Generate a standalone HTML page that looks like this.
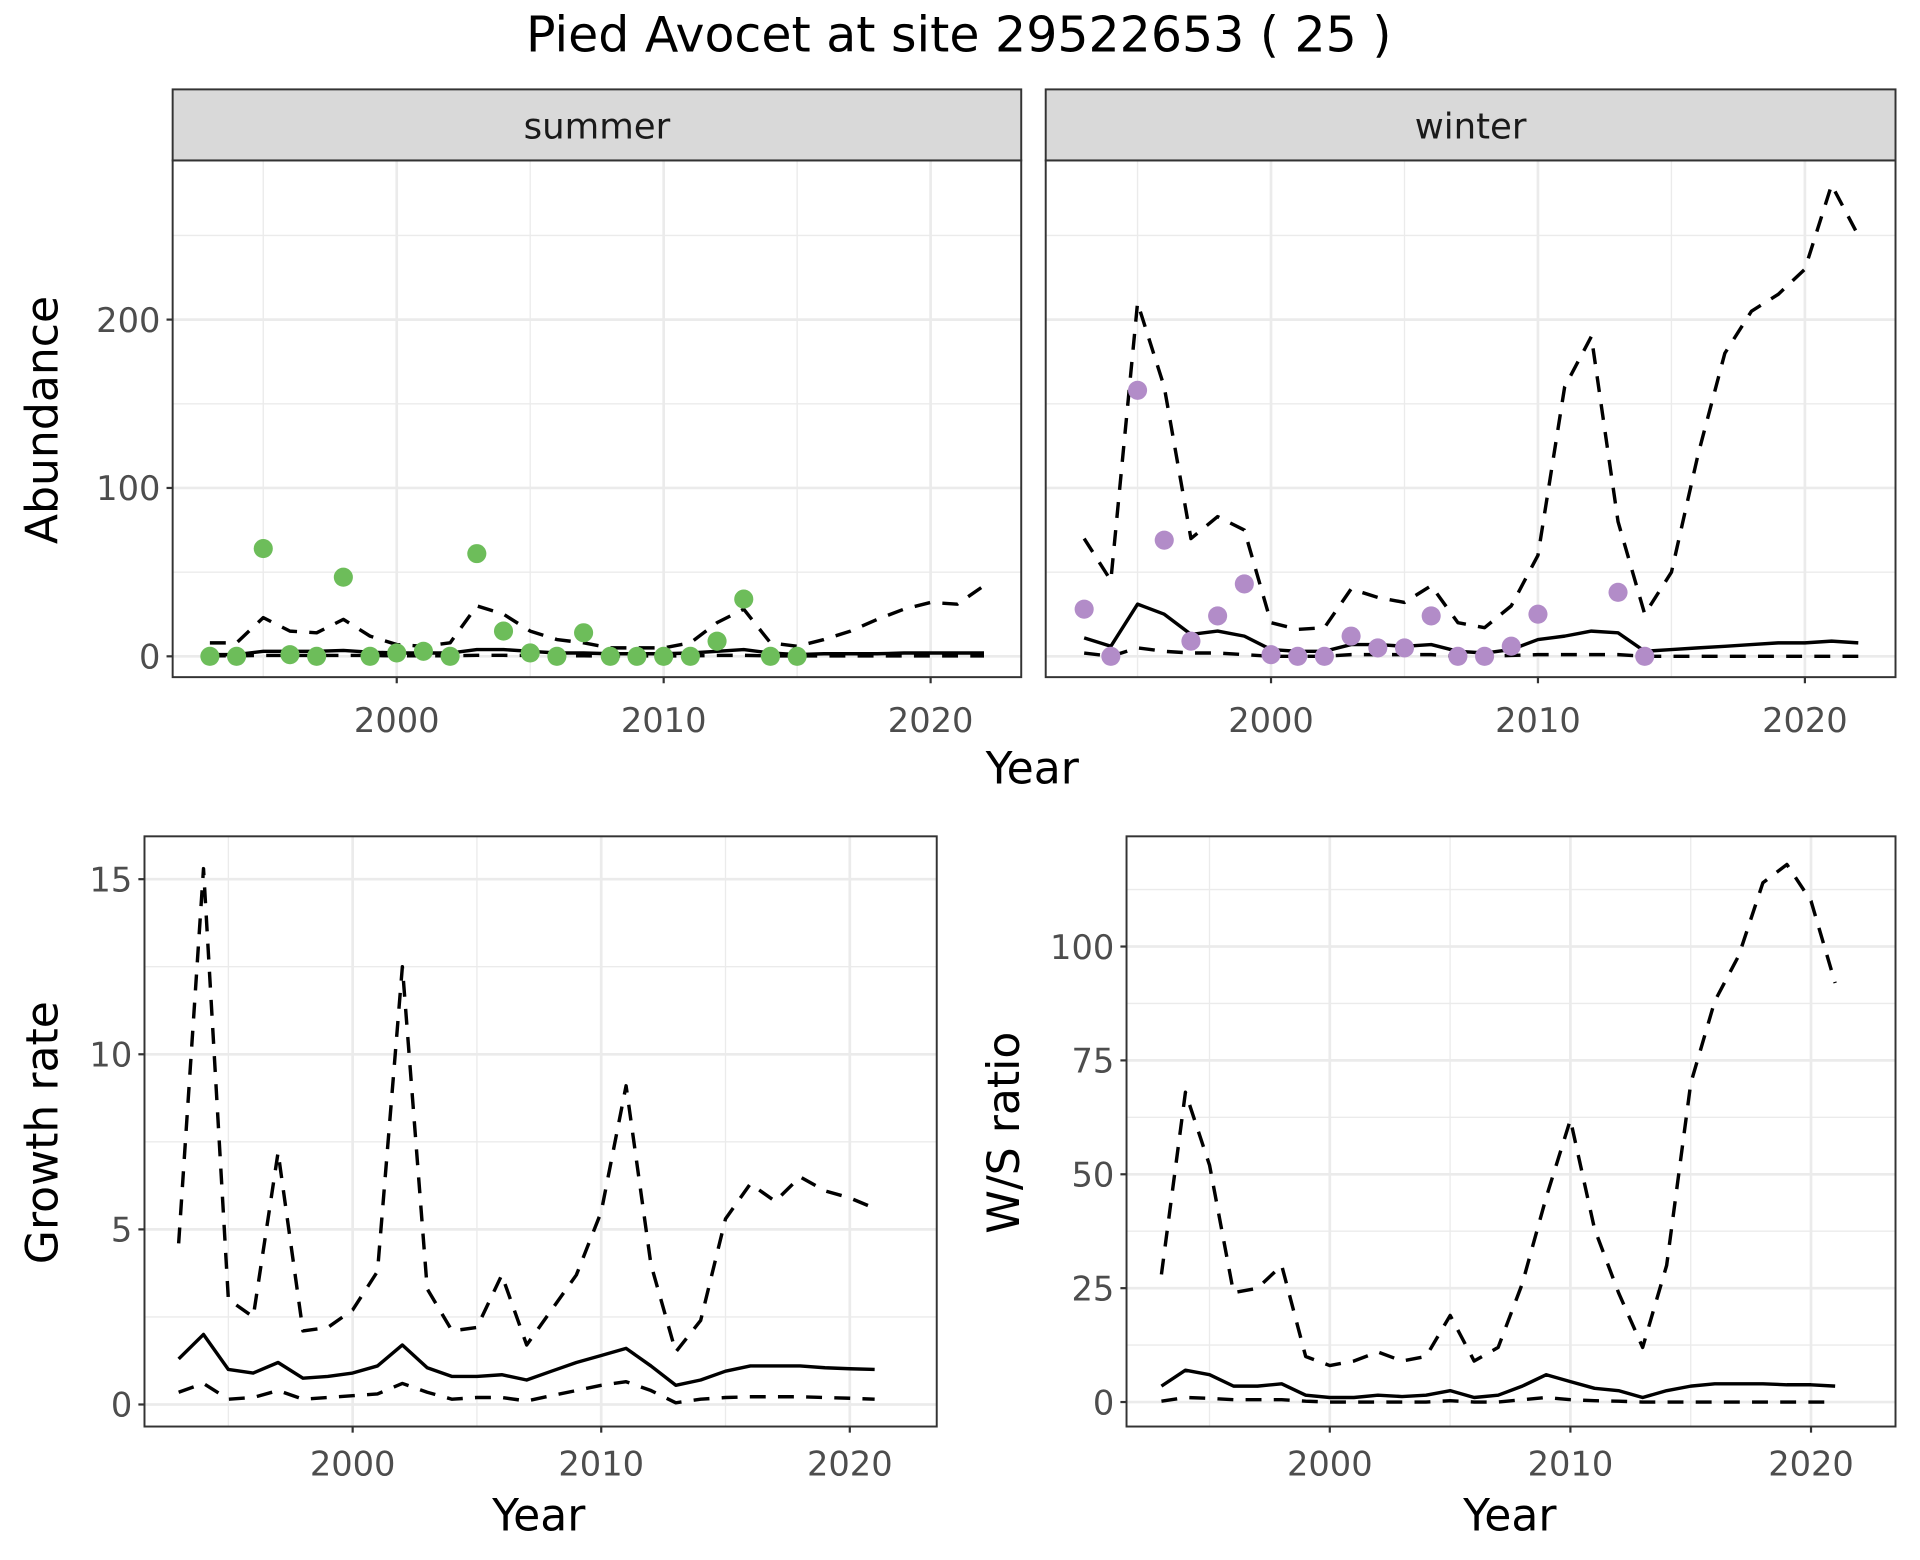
<!DOCTYPE html>
<html><head><meta charset="utf-8"><style>
html,body{margin:0;padding:0;background:#fff;}
svg{display:block;font-family:"DejaVu Sans","Liberation Sans",sans-serif;}
</style></head><body>
<svg id="chart" width="1920" height="1560" viewBox="0 0 1568 1274" preserveAspectRatio="none" xmlns="http://www.w3.org/2000/svg">
<text x="783" y="42" text-anchor="middle" font-size="40" fill="#000">Pied Avocet at site 29522653 ( 25 )</text>
</svg>
<script>
// ---- data ----
const yearsAbund = [1993,1994,1995,1996,1997,1998,1999,2000,2001,2002,2003,2004,2005,2006,2007,2008,2009,2010,2011,2012,2013,2014,2015,2016,2017,2018,2019,2020,2021,2022];
const summerObsYears = [1993,1994,1995,1996,1997,1998,1999,2000,2001,2002,2003,2004,2005,2006,2007,2008,2009,2010,2011,2012,2013,2014,2015];
const summerObs = [0,0,64,1,0,47,0,2,3,0,61,15,2,0,14,0,0,0,0,9,34,0,0];
const summerUpper = [8,8,23,15,14,22,12,7,6,8,30,25,15,10,8,5,5,5,8,20,28,8,6,10,15,22,28,32,31,42];
const summerMean = [1,1,3,3,3,3.5,2.5,2,2,2,4,4,3,2,2,1.5,1.5,1.5,2,3,4,2,1,1.5,1.5,1.5,2,2,2,2];
const summerLower = [0.3,0.3,0.5,0.5,0.5,0.5,0.5,0.3,0.3,0.3,0.6,0.6,0.5,0.3,0.3,0.2,0.2,0.2,0.3,0.5,0.6,0.3,0.2,0.2,0.2,0.2,0.2,0.2,0.2,0.2];
const winterObsYears = [1993,1994,1995,1996,1997,1998,1999,2000,2001,2002,2003,2004,2005,2006,2007,2008,2009,2010,2013,2014];
const winterObs = [28,0,158,69,9,24,43,1,0,0,12,5,5,24,0,0,6,25,38,0];
const winterUpper = [70,45,210,160,70,83,75,20,16,17,40,35,32,42,20,17,30,60,160,190,80,25,50,120,180,205,215,230,280,250];
const winterMean = [11,6,31,25,13,15,12,4,3,3,7,7,6,7,3,2,4,10,12,15,14,3,4,5,6,7,8,8,9,8];
const winterLower = [2,0,5,3,2,2,1,0,0,0,1,1,1,1,0,0,0.5,1,1,1,1,0,0,0,0,0,0,0,0,0];
const yearsRate = [1993,1994,1995,1996,1997,1998,1999,2000,2001,2002,2003,2004,2005,2006,2007,2008,2009,2010,2011,2012,2013,2014,2015,2016,2017,2018,2019,2020,2021];
const growthUpper = [4.6,15.3,3.0,2.5,7.2,2.1,2.2,2.7,3.8,12.5,3.3,2.1,2.2,3.7,1.7,2.7,3.7,5.5,9.1,4.0,1.5,2.4,5.3,6.3,5.8,6.5,6.1,5.9,5.6];
const growthMean = [1.3,2.0,1.0,0.9,1.2,0.75,0.8,0.9,1.1,1.7,1.05,0.8,0.8,0.85,0.7,0.95,1.2,1.4,1.6,1.1,0.55,0.7,0.95,1.1,1.1,1.1,1.05,1.02,1.0];
const growthLower = [0.35,0.6,0.15,0.2,0.4,0.15,0.2,0.25,0.3,0.6,0.35,0.15,0.2,0.2,0.1,0.25,0.4,0.55,0.65,0.4,0.05,0.15,0.2,0.22,0.22,0.22,0.2,0.18,0.15];
const wsUpper = [28,68,52,24,25,30,10,8,9,11,9,10,19,9,12,26,45,62,38,24,12,30,70,88,98,114,118,110,92];
const wsMean = [3.5,7,6,3.5,3.5,4,1.5,1,1,1.5,1.2,1.5,2.5,1,1.5,3.5,6,4.5,3,2.5,1,2.5,3.5,4,4,4,3.8,3.8,3.5];
const wsLower = [0.2,1,0.8,0.5,0.5,0.5,0.2,0,0,0,0,0,0.3,0,0,0.5,1,0.5,0.3,0.2,0,0,0,0,0,0,0,0,0];
const xTicks = [2000,2010,2020];
const xMinor = [1995,2005,2015];
const abundTicks = [0,100,200];
const abundMinor = [50,150,250];
const growthTicks = [0,5,10,15];
const growthMinor = [2.5,7.5,12.5];
const wsTicks = [0,25,50,75,100];
const wsMinor = [12.5,37.5,62.5,87.5,112.5];

const NS='http://www.w3.org/2000/svg';
const svg=document.getElementById('chart');
function mk(tag,attrs,parent){const e=document.createElementNS(NS,tag);for(const k in attrs)e.setAttribute(k,attrs[k]);(parent||svg).appendChild(e);return e;}

function panel(cfg){
  const g=mk('g',{});
  
  
  const xs=v=>cfg.x0+(v-2000)*cfg.xk;
  const ys=v=>cfg.y0-v*cfg.yk;
  mk('rect',{x:cfg.l,y:cfg.t,width:cfg.r-cfg.l,height:cfg.b-cfg.t,fill:'#fff'},g);
  cfg.yMinor.forEach(v=>{const y=ys(v);if(y>cfg.t&&y<cfg.b)mk('line',{x1:cfg.l,x2:cfg.r,y1:y,y2:y,stroke:'#ebebeb','stroke-width':1.1},g);});
  xMinor.forEach(v=>{const x=xs(v);if(x>cfg.l&&x<cfg.r)mk('line',{x1:x,x2:x,y1:cfg.t,y2:cfg.b,stroke:'#ebebeb','stroke-width':1.1},g);});
  cfg.yTicks.forEach(v=>{const y=ys(v);mk('line',{x1:cfg.l,x2:cfg.r,y1:y,y2:y,stroke:'#ebebeb','stroke-width':2.2},g);});
  xTicks.forEach(v=>{const x=xs(v);mk('line',{x1:x,x2:x,y1:cfg.t,y2:cfg.b,stroke:'#ebebeb','stroke-width':2.2},g);});
  const line=(vals,yrs,dash,nm)=>{
    const d=vals.map((v,i)=>(i?'L':'M')+xs(yrs[i]).toFixed(1)+','+ys(v).toFixed(1)).join('');
    const p=mk('path',{d:d,fill:'none',stroke:'#000','stroke-width':2.8,'stroke-dasharray':dash?'13,10':'none','stroke-linejoin':'round'},g);
    
    
  };
  line(cfg.lower,cfg.yrs,true,'lower-bound-line');
  line(cfg.upper,cfg.yrs,true,'upper-bound-line');
  line(cfg.mean,cfg.yrs,false,'mean-line');
  if(cfg.obs){cfg.obs.forEach((v,i)=>{const c=mk('circle',{cx:xs(cfg.obsYrs[i]),cy:ys(v),r:7.8,fill:cfg.color},g);
    
    });}
  mk('rect',{x:cfg.l,y:cfg.t,width:cfg.r-cfg.l,height:cfg.b-cfg.t,fill:'none',stroke:'#333','stroke-width':1.6},g);
  if(cfg.showY){cfg.yTicks.forEach(v=>{const y=ys(v);
    mk('line',{x1:cfg.l-5,x2:cfg.l,y1:y,y2:y,stroke:'#333','stroke-width':1.8},g);
    const t=mk('text',{x:cfg.l-10,y:y+10,'text-anchor':'end','font-size':27.5,fill:'#4d4d4d'},g);t.textContent=v;
    
    });}
  xTicks.forEach(v=>{const x=xs(v);
    mk('line',{x1:x,x2:x,y1:cfg.b,y2:cfg.b+5,stroke:'#333','stroke-width':1.8},g);
    const t=mk('text',{x:x,y:cfg.b+cfg.tickDy,'text-anchor':'middle','font-size':27.5,fill:'#4d4d4d'},g);t.textContent=v;
    
    });
  if(cfg.strip){
    mk('rect',{x:cfg.l,y:cfg.t-58,width:cfg.r-cfg.l,height:58,fill:'#d9d9d9',stroke:'#333','stroke-width':1.6},g);
    const t=mk('text',{x:(cfg.l+cfg.r)/2,y:cfg.t-18,'text-anchor':'middle','font-size':29,fill:'#1a1a1a'},g);t.textContent=cfg.strip;
    
    
  }
}
function label(txt,x,y,rot,nm){const t=mk('text',{x:x,y:y,'text-anchor':'middle','font-size':36,fill:'#000',transform:rot?`rotate(-90 ${x} ${y})`:''});t.textContent=txt;
  
  }

panel({name:'summer-panel',l:141,r:834,t:131,b:553,x0:324,xk:21.8,y0:536,yk:1.375,yTicks:abundTicks,yMinor:abundMinor,yrs:yearsAbund,upper:summerUpper,mean:summerMean,lower:summerLower,obs:summerObs,obsYrs:summerObsYears,color:'#6dbd5a',showY:true,strip:'summer',tickDy:45});
panel({name:'winter-panel',l:854,r:1548,t:131,b:553,x0:1038,xk:21.8,y0:536,yk:1.375,yTicks:abundTicks,yMinor:abundMinor,yrs:yearsAbund,upper:winterUpper,mean:winterMean,lower:winterLower,obs:winterObs,obsYrs:winterObsYears,color:'#b28cc8',showY:false,strip:'winter',tickDy:45});
panel({name:'growth-panel',l:118,r:765,t:683,b:1165,x0:288,xk:20.3,y0:1147,yk:28.6,yTicks:growthTicks,yMinor:growthMinor,yrs:yearsRate,upper:growthUpper,mean:growthMean,lower:growthLower,showY:true,tickDy:40});
panel({name:'ws-ratio-panel',l:920,r:1548,t:683,b:1165,x0:1086,xk:19.65,y0:1145,yk:3.72,yTicks:wsTicks,yMinor:wsMinor,yrs:yearsRate,upper:wsUpper,mean:wsMean,lower:wsLower,showY:true,tickDy:40});
label('Abundance',47,343,true,'y-axis-title-abundance');
label('Year',843,640,false,'x-axis-title-top');
label('Growth rate',47,925,true,'y-axis-title-growth');
label('Year',440,1250,false,'x-axis-title-growth');
label('W/S ratio',832,925,true,'y-axis-title-ws');
label('Year',1233,1250,false,'x-axis-title-ws');
</script>
</body></html>
